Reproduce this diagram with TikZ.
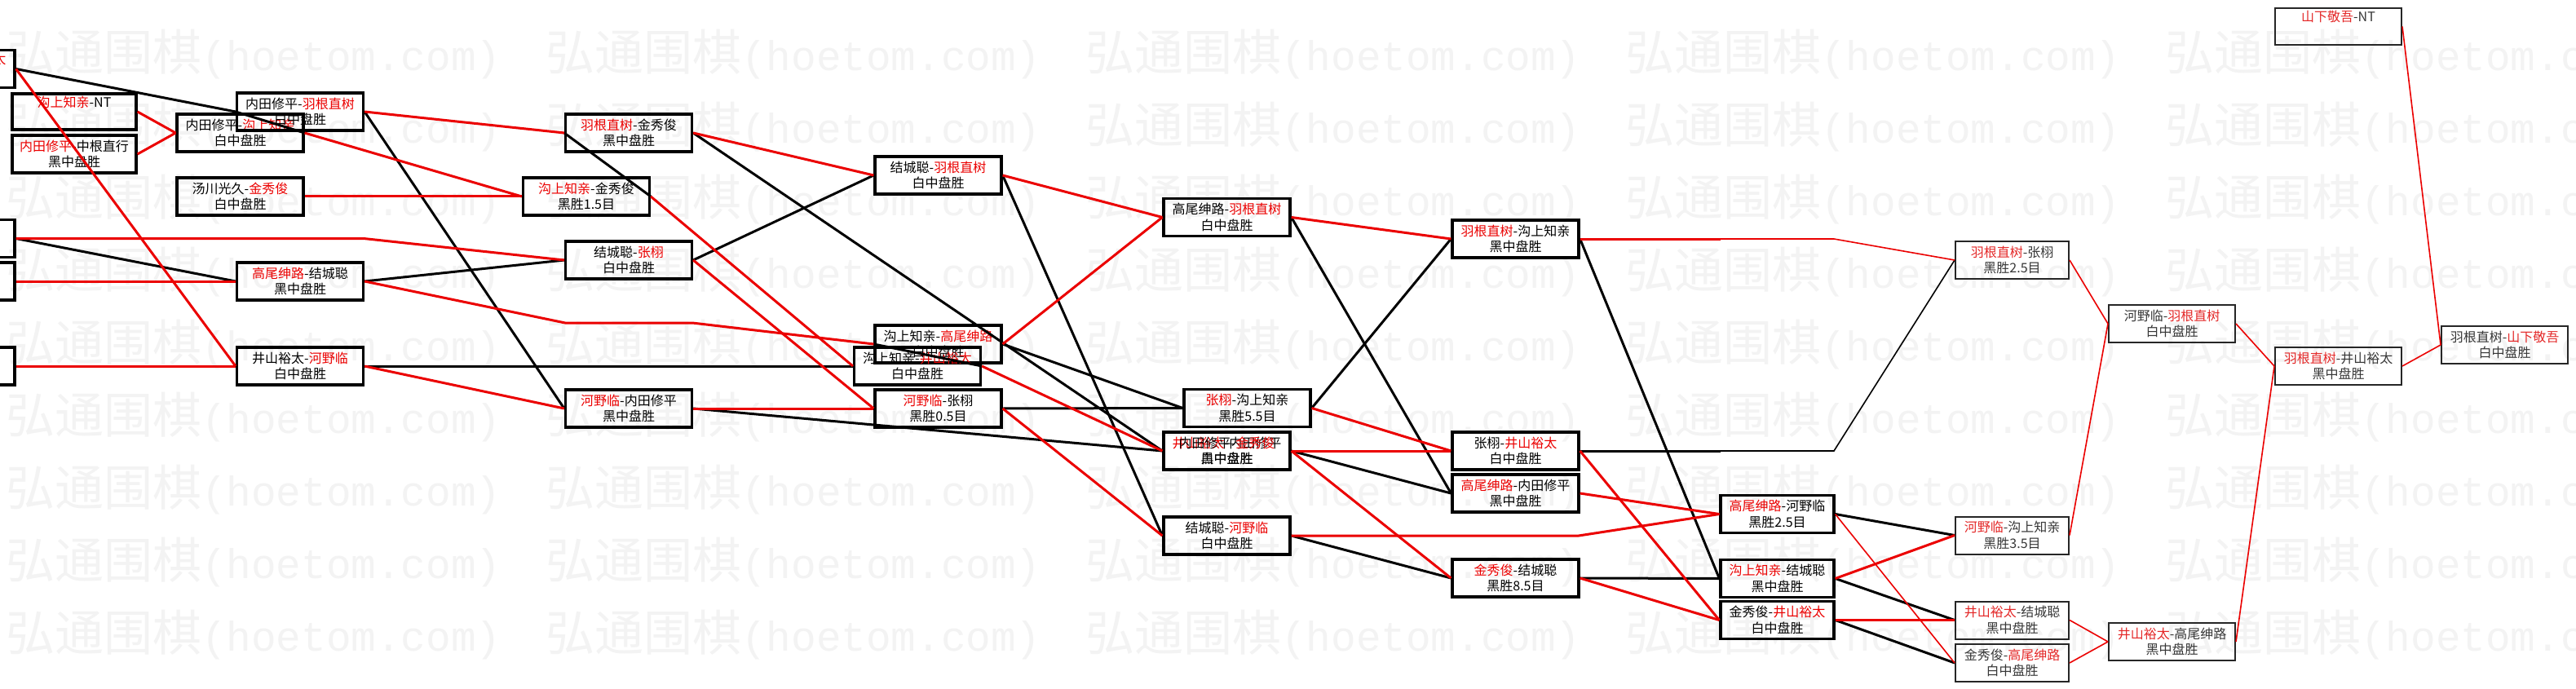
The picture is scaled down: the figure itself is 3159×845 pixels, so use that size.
\documentclass[tikz,border=0pt]{standalone}
\usepackage{fontspec}
\newfontfamily\cjk{Noto Sans CJK SC}
\newfontfamily\wmmono{Liberation Mono}
\definecolor{lred}{RGB}{235,0,0}
\definecolor{rred}{RGB}{228,40,40}
\definecolor{rtxt}{RGB}{55,55,55}
\definecolor{wmc}{RGB}{243,243,243}
\newcommand\rd[1]{\textcolor{lred}{#1}}
\newcommand\rr[1]{\textcolor{rred}{#1}}
\begin{document}
\begin{tikzpicture}[x=1pt,y=-1pt,
  box/.style={draw=black, line width=3.2pt, minimum width=155pt, minimum height=46pt, inner sep=0pt, align=center, font=\cjk\fontsize{16}{19.5}\selectfont, text=black},
  nbox/.style={box, minimum width=139pt},
  tbox/.style={draw=black!85, line width=2pt, minimum width=155pt, minimum height=46pt, inner sep=0pt, align=center, font=\cjk\fontsize{16}{19.5}\selectfont, text=rtxt},
  ntbox/.style={tbox, minimum width=139pt},
  rw/.style={draw=lred, line width=3pt},
  bl/.style={draw=black, line width=3pt},
  rwt/.style={draw=lred, line width=1.6pt},
  blt/.style={draw=black, line width=1.6pt},
  wmk/.style={anchor=west, text=wmc, font=\cjk\fontsize{60}{62}\selectfont, inner sep=0pt},
]
\useasboundingbox (0,0) rectangle (3159,845);
\clip (0,0) rectangle (3159,845);
\fill[white] (0,0) rectangle (3159,845);

% watermark
\foreach \k in {0,...,8}{
  \foreach \j in {0,...,4}{
    \node[wmk] (wm-\k-\j) at ({7+662*\j},{67+89*\k}) {弘通围棋{\wmmono\fontsize{51}{60}\selectfont(hoetom.com)}};
  }
}

% ---------- boxes ----------
\node[box] (L1) at (-59.5,84.5) {羽根直树-\rd{井山裕太}\\\strut};
\node[box] (L2) at (-59.5,292.5) {};
\node[box] (L3) at (-59.5,345) {};
\node[box] (L4) at (-59.5,449) {};

\node[box,minimum width=152pt,minimum height=44pt] (A) at (91,137) {\rd{沟上知亲}-NT\\\strut};
\node[box,minimum width=152pt] (B) at (91,189) {\rd{内田修平}-中根直行\\黑中盘胜};

\node[box] (C) at (294.5,163) {内田修平-\rd{沟上知亲}\\白中盘胜};
\node[box] (E) at (294.5,241) {汤川光久-\rd{金秀俊}\\白中盘胜};

\node[box] (D) at (368,137) {内田修平-\rd{羽根直树}\\白中盘胜};
\node[box] (F) at (368,345) {\rd{高尾绅路}-结城聪\\黑中盘胜};
\node[box] (G) at (368,449) {井山裕太-\rd{河野临}\\白中盘胜};

\node[box] (I) at (719,241) {\rd{沟上知亲}-金秀俊\\黑胜1.5目};

\node[box] (H) at (771,163) {\rd{羽根直树}-金秀俊\\黑中盘胜};
\node[box] (J) at (771,319) {结城聪-\rd{张栩}\\白中盘胜};
\node[box] (P) at (771,501) {\rd{河野临}-内田修平\\黑中盘胜};

\node[box] (N) at (1150.5,422) {沟上知亲-\rd{高尾绅路}\\白中盘胜};
\node[box] (O) at (1125,449) {沟上知亲-\rd{井山裕太}\\白中盘胜};
\node[box] (K) at (1150.5,215) {结城聪-\rd{羽根直树}\\白中盘胜};
\node[box] (Q) at (1150.5,501) {\rd{河野临}-张栩\\黑胜0.5目};

\node[box] (M) at (1504.5,266.5) {高尾绅路-\rd{羽根直树}\\白中盘胜};
\node[box] (T) at (1504.5,553) {\rd{井山裕太}-内田修平\\黑中盘胜};
\node[box] (U) at (1504.5,553) {内田修平-\rd{金秀俊}\\白中盘胜};
\node[box] (X) at (1504.5,657) {结城聪-\rd{河野临}\\白中盘胜};
\node[box] (S) at (1529.5,500.5) {\rd{张栩}-沟上知亲\\黑胜5.5目};

\node[box] (R) at (1858.5,293) {\rd{羽根直树}-沟上知亲\\黑中盘胜};
\node[box] (V) at (1858.5,553) {张栩-\rd{井山裕太}\\白中盘胜};
\node[box] (W) at (1858.5,605) {\rd{高尾绅路}-内田修平\\黑中盘胜};
\node[box] (Y) at (1858.5,709) {\rd{金秀俊}-结城聪\\黑胜8.5目};

\node[nbox] (Z) at (2179.5,630.5) {\rd{高尾绅路}-河野临\\黑胜2.5目};
\node[nbox] (AA) at (2179.5,709.5) {\rd{沟上知亲}-结城聪\\黑中盘胜};
\node[nbox] (AB) at (2179.5,760.5) {金秀俊-\rd{井山裕太}\\白中盘胜};

\node[ntbox] (AG) at (2467.5,319) {\rr{羽根直树}-张栩\\黑胜2.5目};
\node[ntbox] (AC) at (2467.5,656.5) {\rr{河野临}-沟上知亲\\黑胜3.5目};
\node[ntbox] (AD) at (2467.5,760.5) {\rr{井山裕太}-结城聪\\黑中盘胜};
\node[ntbox] (AE) at (2467.5,813) {金秀俊-\rr{高尾绅路}\\白中盘胜};

\node[tbox] (AH) at (2663.5,397) {河野临-\rr{羽根直树}\\白中盘胜};
\node[tbox] (AF) at (2663.5,787) {\rr{井山裕太}-高尾绅路\\黑中盘胜};

\node[tbox] (AI) at (2867.5,449) {\rr{羽根直树}-井山裕太\\黑中盘胜};
\node[tbox,minimum height=45pt] (AK) at (2867.5,32.5) {\rr{山下敬吾}-NT\\\strut};

\node[tbox] (AJ) at (3071.5,423) {羽根直树-\rr{山下敬吾}\\白中盘胜};

% ---------- waypoints ----------
\coordinate (w1) at (446,292.5);
\coordinate (w2) at (693,396);
\coordinate (w3) at (849,396);
\coordinate (w4) at (1936,657);
\coordinate (w5) at (2110,293);
\coordinate (w6) at (2249,293);
\coordinate (w7) at (2110,553);
\coordinate (w8) at (2249,553);

% ---------- black (loser) lines ----------
\draw[bl] (L1.east) -- (D.west);
\draw[bl] (L2.east) -- (F.west);
\draw[bl] (C.east) -- (D.west);
\draw[bl] (D.east) -- (P.west);
\draw[bl] (F.east) -- (J.west);
\draw[bl] (G.east) -- (O.west);
\draw[bl] (I.east) -- (H.west);
\draw[bl] (J.east) -- (K.west);
\draw[bl] (H.east) -- (U.west);
\draw[bl] (P.east) -- (T.west);
\draw[bl] (O.east) -- (N.west);
\draw[bl] (N.east) -- (S.west);
\draw[bl] (Q.east) -- (S.west);
\draw[bl] (K.east) -- (X.west);
\draw[bl] (M.east) -- (W.west);
\draw[bl] (S.east) -- (R.west);
\draw[bl] (T.east) -- (W.west);
\draw[bl] (X.east) -- (Y.west);
\draw[bl] (V.east) -- (w7);
\draw[blt] (w7) -- (w8) -- (AG.west);
\draw[bl] (R.east) -- (AA.west);
\draw[bl] (Y.east) -- (AA.west);
\draw[bl] (Z.east) -- (AC.west);
\draw[bl] (AA.east) -- (AD.west);
\draw[bl] (AB.east) -- (AE.west);

% ---------- red (winner) lines ----------
\draw[rw] (L1.east) -- (G.west);
\draw[rw] (L2.east) -- (w1) -- (J.west);
\draw[rw] (L3.east) -- (F.west);
\draw[rw] (L4.east) -- (G.west);
\draw[rw] (A.east) -- (C.west);
\draw[rw] (B.east) -- (C.west);
\draw[rw] (C.east) -- (I.west);
\draw[rw] (D.east) -- (H.west);
\draw[rw] (E.east) -- (I.west);
\draw[rw] (F.east) -- (w2) -- (w3) -- (N.west);
\draw[rw] (G.east) -- (P.west);
\draw[rw] (H.east) -- (K.west);
\draw[rw] (I.east) -- (O.west);
\draw[rw] (J.east) -- (Q.west);
\draw[rw] (P.east) -- (Q.west);
\draw[rw] (K.east) -- (M.west);
\draw[rw] (N.east) -- (M.west);
\draw[rw] (O.east) -- (T.west);
\draw[rw] (Q.east) -- (X.west);
\draw[rw] (M.east) -- (R.west);
\draw[rw] (S.east) -- (V.west);
\draw[rw] (T.east) -- (V.west);
\draw[rw] (U.east) -- (Y.west);
\draw[rw] (X.east) -- (w4) -- (Z.west);
\draw[rw] (R.east) -- (w5);
\draw[rwt] (w5) -- (w6) -- (AG.west);
\draw[rw] (W.east) -- (Z.west);
\draw[rw] (V.east) -- (AB.west);
\draw[rw] (Y.east) -- (AB.west);
\draw[rw] (AA.east) -- (AC.west);
\draw[rw] (AB.east) -- (AD.west);
\draw[rwt] (Z.east) -- (AE.west);
\draw[rwt] (AC.east) -- (AH.west);
\draw[rwt] (AD.east) -- (AF.west);
\draw[rwt] (AE.east) -- (AF.west);
\draw[rwt] (AF.east) -- (AI.west);
\draw[rwt] (AG.east) -- (AH.west);
\draw[rwt] (AH.east) -- (AI.west);
\draw[rwt] (AI.east) -- (AJ.west);
\draw[rwt] (AK.east) -- (AJ.west);
\end{tikzpicture}
\end{document}
